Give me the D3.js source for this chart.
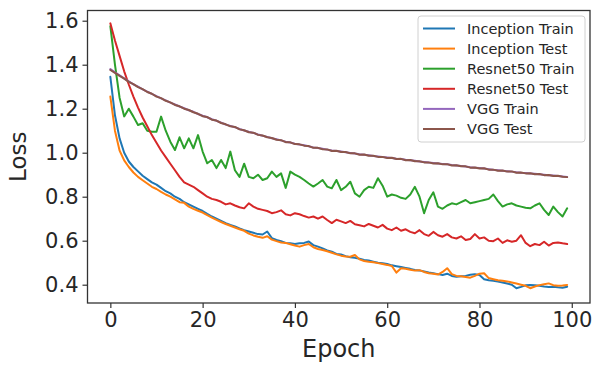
<!DOCTYPE html>
<html>
<head>
<meta charset="utf-8">
<script src="https://cdn.jsdelivr.net/npm/d3@7"></script>
<style>
  html, body { margin: 0; padding: 0; background: #ffffff; }
  svg { display: block; }
  text { font-family: "DejaVu Sans", sans-serif; fill: #262626; }
</style>
</head>
<body>
<svg id="chart" width="596" height="365"></svg>
<script>
// ---------- data ----------
const epochs = d3.range(0, 100);
const seriesNames = ["Inception Train", "Inception Test", "Resnet50 Train", "Resnet50 Test", "VGG Train", "VGG Test"];
const seriesColors = ["#1f77b4", "#ff7f0e", "#2ca02c", "#d62728", "#9467bd", "#8c564b"];
const xTicks = [0, 20, 40, 60, 80, 100];
const yTicks = [0.4, 0.6, 0.8, 1.0, 1.2, 1.4, 1.6];

const inceptionTrain = [1.345,1.17,1.065,1.00,0.96,0.935,0.915,0.895,0.88,0.865,
  0.855,0.84,0.825,0.815,0.80,0.79,0.775,0.765,0.755,0.745,
  0.735,0.722,0.71,0.70,0.69,0.68,0.672,0.665,0.656,0.648,
  0.642,0.636,0.63,0.628,0.642,0.612,0.603,0.598,0.59,0.588,
  0.585,0.588,0.59,0.596,0.58,0.573,0.565,0.556,0.55,0.54,
  0.537,0.53,0.525,0.522,0.518,0.512,0.51,0.505,0.50,0.497,
  0.494,0.488,0.484,0.48,0.476,0.472,0.467,0.465,0.46,0.455,
  0.452,0.448,0.444,0.45,0.44,0.436,0.438,0.44,0.445,0.448,
  0.444,0.425,0.42,0.418,0.414,0.41,0.405,0.40,0.384,0.39,
  0.397,0.399,0.398,0.395,0.392,0.39,0.391,0.388,0.386,0.391];

const inceptionTest = [1.255,1.10,1.01,0.965,0.935,0.91,0.89,0.875,0.86,0.845,
  0.835,0.822,0.81,0.80,0.788,0.775,0.772,0.755,0.745,0.736,
  0.728,0.716,0.705,0.695,0.685,0.676,0.668,0.66,0.652,0.645,
  0.632,0.624,0.618,0.613,0.62,0.605,0.598,0.592,0.59,0.584,
  0.578,0.573,0.58,0.585,0.57,0.562,0.558,0.552,0.545,0.538,
  0.532,0.528,0.527,0.535,0.515,0.508,0.504,0.502,0.498,0.494,
  0.49,0.485,0.455,0.475,0.472,0.468,0.464,0.466,0.458,0.452,
  0.45,0.446,0.458,0.475,0.448,0.44,0.438,0.435,0.432,0.44,
  0.45,0.452,0.43,0.425,0.42,0.418,0.415,0.41,0.405,0.40,
  0.395,0.384,0.392,0.398,0.402,0.406,0.398,0.395,0.396,0.399];

const resnetTrain = [1.575,1.40,1.25,1.165,1.20,1.164,1.126,1.134,1.10,1.095,
  1.095,1.164,1.10,1.05,1.012,1.07,1.02,1.065,1.02,1.08,
  1.005,0.952,0.967,0.93,0.967,0.93,1.005,0.92,0.89,0.95,
  0.89,0.884,0.90,0.876,0.884,0.914,0.89,0.906,0.84,0.914,
  0.90,0.89,0.876,0.86,0.846,0.86,0.876,0.846,0.838,0.876,
  0.83,0.845,0.868,0.815,0.80,0.83,0.845,0.84,0.884,0.85,
  0.80,0.81,0.805,0.795,0.79,0.81,0.845,0.80,0.725,0.785,
  0.82,0.755,0.745,0.76,0.77,0.765,0.775,0.785,0.77,0.775,
  0.78,0.785,0.79,0.81,0.78,0.755,0.765,0.77,0.76,0.755,
  0.75,0.747,0.76,0.77,0.74,0.717,0.755,0.73,0.71,0.747];

const resnetTest = [1.588,1.51,1.44,1.37,1.31,1.255,1.205,1.16,1.12,1.08,
  1.045,1.01,0.98,0.95,0.92,0.89,0.865,0.855,0.845,0.83,
  0.815,0.80,0.79,0.785,0.777,0.765,0.77,0.76,0.752,0.747,
  0.77,0.755,0.745,0.74,0.735,0.725,0.73,0.738,0.72,0.715,
  0.725,0.72,0.712,0.705,0.71,0.70,0.71,0.694,0.68,0.695,
  0.688,0.68,0.69,0.675,0.67,0.665,0.676,0.668,0.66,0.672,
  0.655,0.648,0.66,0.645,0.652,0.64,0.634,0.648,0.63,0.622,
  0.64,0.625,0.618,0.63,0.615,0.61,0.62,0.603,0.608,0.63,
  0.61,0.615,0.60,0.598,0.61,0.59,0.602,0.595,0.60,0.625,
  0.59,0.575,0.585,0.58,0.595,0.578,0.59,0.592,0.588,0.585];

const vggTrain = [1.380,1.365,1.352,1.338,1.324,1.311,1.300,1.288,1.278,1.267,
  1.257,1.247,1.238,1.228,1.219,1.210,1.202,1.193,1.186,1.176,
  1.168,1.161,1.152,1.145,1.137,1.128,1.122,1.116,1.108,1.101,
  1.095,1.090,1.083,1.077,1.072,1.066,1.061,1.056,1.050,1.046,
  1.041,1.037,1.034,1.029,1.024,1.021,1.018,1.014,1.010,1.008,
  1.005,1.002,0.999,0.996,0.993,0.991,0.988,0.985,0.983,0.980,
  0.978,0.976,0.973,0.971,0.968,0.966,0.963,0.960,0.958,0.955,
  0.953,0.951,0.949,0.947,0.944,0.942,0.940,0.937,0.934,0.932,
  0.930,0.928,0.925,0.922,0.920,0.918,0.916,0.914,0.911,0.909,
  0.908,0.906,0.904,0.902,0.900,0.898,0.896,0.894,0.892,0.890];

const vggTest = [1.376,1.363,1.349,1.337,1.322,1.312,1.298,1.289,1.276,1.268,
  1.255,1.248,1.236,1.229,1.217,1.211,1.200,1.194,1.184,1.177,
  1.166,1.162,1.150,1.146,1.135,1.129,1.120,1.117,1.106,1.102,
  1.093,1.091,1.081,1.078,1.070,1.067,1.059,1.057,1.048,1.047,
  1.039,1.038,1.032,1.030,1.022,1.022,1.016,1.015,1.008,1.009,
  1.003,1.003,0.997,0.997,0.991,0.992,0.986,0.986,0.981,0.981,
  0.976,0.977,0.971,0.972,0.966,0.967,0.961,0.961,0.956,0.956,
  0.951,0.952,0.947,0.948,0.942,0.943,0.938,0.938,0.932,0.933,
  0.928,0.929,0.923,0.923,0.918,0.919,0.914,0.915,0.909,0.910,
  0.906,0.907,0.902,0.903,0.898,0.899,0.894,0.895,0.891,0.889];

const seriesValues = [inceptionTrain, inceptionTest, resnetTrain, resnetTest, vggTrain, vggTest];

// ---------- layout ----------
const svg = d3.select("#chart");
const plot = { left: 87.5, right: 590, top: 10.5, bottom: 303 };

const x = d3.scaleLinear().domain([-4.95, 103.95]).range([plot.left, plot.right]);
const y = d3.scaleLinear().domain([0.3168, 1.6464]).range([plot.bottom, plot.top]);

// lines
const line = d3.line().x((d, i) => x(epochs[i])).y(d => y(d));
const gLines = svg.append("g");
seriesValues.forEach((vals, k) => {
  gLines.append("path")
    .datum(vals)
    .attr("fill", "none")
    .attr("stroke", seriesColors[k])
    .attr("stroke-width", 2)
    .attr("stroke-linejoin", "round")
    .attr("stroke-linecap", "round")
    .attr("d", line);
});

// axes
const xAxis = d3.axisBottom(x).tickValues(xTicks).tickSize(5).tickPadding(4).tickFormat(d3.format("d"));
const yAxis = d3.axisLeft(y).tickValues(yTicks).tickSize(5).tickPadding(4).tickFormat(d3.format(".1f"));

const gx = svg.append("g").attr("transform", `translate(0,${plot.bottom})`).call(xAxis);
const gy = svg.append("g").attr("transform", `translate(${plot.left},0)`).call(yAxis);
[gx, gy].forEach(g => {
  g.select(".domain").remove();
  g.selectAll(".tick line").attr("stroke", "#333").attr("stroke-width", 1.2);
  g.selectAll(".tick text").attr("font-size", 21).attr("font-family", "DejaVu Sans").attr("fill", "#262626");
});

// frame
svg.append("rect")
  .attr("x", plot.left).attr("y", plot.top)
  .attr("width", plot.right - plot.left).attr("height", plot.bottom - plot.top)
  .attr("fill", "none").attr("stroke", "#333").attr("stroke-width", 1.3);

// axis labels
svg.append("text")
  .attr("x", (plot.left + plot.right) / 2 + 0).attr("y", 357)
  .attr("text-anchor", "middle").attr("font-size", 24)
  .text("Epoch");
svg.append("text")
  .attr("transform", `translate(26,${(plot.top + plot.bottom) / 2}) rotate(-90)`)
  .attr("text-anchor", "middle").attr("font-size", 23)
  .text("Loss");

// legend
const legend = svg.append("g");
legend.append("rect")
  .attr("x", 418).attr("y", 16).attr("width", 167).attr("height", 126)
  .attr("rx", 3).attr("fill", "#ffffff").attr("fill-opacity", 0.85)
  .attr("stroke", "#d0d0d0").attr("stroke-width", 1);
seriesNames.forEach((name, k) => {
  const cy = 28.5 + k * 20.1;
  legend.append("line")
    .attr("x1", 423).attr("x2", 455).attr("y1", cy).attr("y2", cy)
    .attr("stroke", seriesColors[k]).attr("stroke-width", 2);
  legend.append("text")
    .attr("x", 467).attr("y", cy).attr("dy", "0.36em")
    .attr("font-size", 14.5)
    .text(name);
});
</script>
</body>
</html>
